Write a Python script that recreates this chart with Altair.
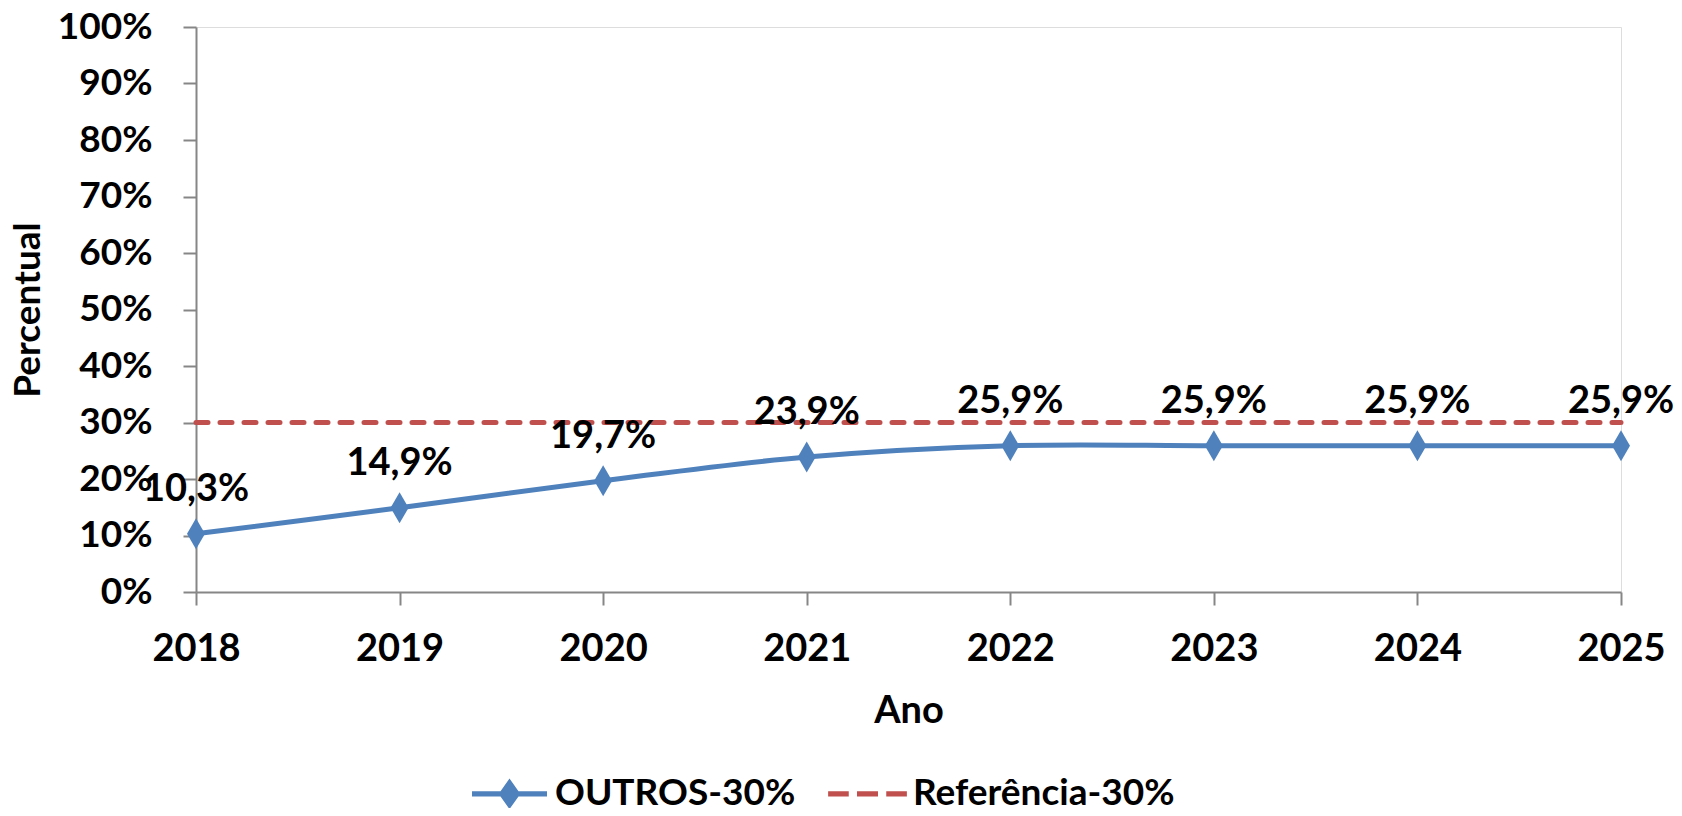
import altair as alt
import pandas as pd

anos = ["2018", "2019", "2020", "2021", "2022", "2023", "2024", "2025"]
outros = [0.103, 0.149, 0.197, 0.239, 0.259, 0.259, 0.259, 0.259]
referencia = [0.30, 0.30, 0.30, 0.30, 0.30, 0.30, 0.30, 0.30]
series_names = ["OUTROS-30%", "Referência-30%"]
y_ticks = [0.0, 0.1, 0.2, 0.3, 0.4, 0.5, 0.6, 0.7, 0.8, 0.9, 1.0]

BLUE = "#4F81BD"
RED = "#C0504D"
AXIS_GRAY = "#868686"
FONT = "Lato"

df_out = pd.DataFrame({"ano": anos, "valor": outros, "serie": series_names[0]})
df_out["rotulo"] = [f"{v*100:.1f}".replace(".", ",") + "%" for v in outros]
df_ref = pd.DataFrame({"ano": anos, "valor": referencia, "serie": series_names[1]})
df_all = pd.concat([df_out, df_ref], ignore_index=True)

x_enc = alt.X(
    "ano:O",
    sort=anos,
    scale=alt.Scale(type="point", padding=0),
    axis=alt.Axis(
        title="Ano", labelAngle=0, labelFont=FONT, labelFontSize=38, labelFontWeight="bold",
        labelColor="black", labelPadding=25, tickSize=13, tickColor=AXIS_GRAY, tickWidth=2,
        domainColor=AXIS_GRAY, domainWidth=2, grid=False,
        titleFont=FONT, titleFontSize=38, titleFontWeight="bold", titleColor="black", titlePadding=24,
    ),
)
y_enc = alt.Y(
    "valor:Q",
    scale=alt.Scale(domain=[0, 1], nice=False, zero=True),
    axis=alt.Axis(
        title="Percentual", values=y_ticks, format=".0%", labelFont=FONT, labelFontSize=37,
        labelFontWeight="bold", labelColor="black", labelPadding=31, tickSize=13,
        tickColor=AXIS_GRAY, tickWidth=2, domainColor=AXIS_GRAY, domainWidth=2, grid=False,
        titleFont=FONT, titleFontSize=37, titleFontWeight="bold", titleColor="black", titlePadding=10,
    ),
)

DIAMOND = "M0,-1L0.58,0L0,1L-0.58,0Z"
LEG_OUT = "M-1,-0.07L-0.24,-0.07L0,-0.41L0.24,-0.07L1,-0.07L1,0.07L0.24,0.07L0,0.41L-0.24,0.07L-1,0.07Z"
LEG_REF = ("M-1.05,-0.07L-0.5,-0.07L-0.5,0.07L-1.05,0.07Z"
           "M-0.28,-0.07L0.28,-0.07L0.28,0.07L-0.28,0.07Z"
           "M0.5,-0.07L1.05,-0.07L1.05,0.07L0.5,0.07Z")

legend = alt.Legend(
    title=None, orient="none", legendX=276, legendY=729, direction="horizontal",
    labelFont=FONT, labelFontSize=37, labelFontWeight="bold", labelColor="black",
    labelLimit=500, symbolSize=5625, symbolStrokeWidth=0, symbolOpacity=1,
    labelOffset=8, columnPadding=32, padding=0,
)

ref_line = alt.Chart(df_ref).mark_line(
    color=RED, strokeWidth=5, strokeDash=[12, 12], strokeCap="round"
).encode(x=x_enc, y=y_enc)

out_line = alt.Chart(df_out).mark_line(
    color=BLUE, strokeWidth=5, interpolate="cardinal"
).encode(x=x_enc, y=y_enc)

out_points = alt.Chart(df_out).mark_point(
    shape=DIAMOND, filled=True, color=BLUE, size=961, opacity=1
).encode(x=x_enc, y=y_enc)

labels = alt.Chart(df_out).mark_text(
    font=FONT, fontSize=38, fontWeight="bold", color="black", baseline="alphabetic",
    align="center", dy=-33
).encode(x=x_enc, y=y_enc, text="rotulo:N")

legend_layer = alt.Chart(df_all).mark_point(filled=True, size=0, opacity=1).encode(
    x=x_enc, y=y_enc,
    color=alt.Color("serie:N", scale=alt.Scale(domain=series_names, range=[BLUE, RED]), legend=legend),
    shape=alt.Shape("serie:N", scale=alt.Scale(domain=series_names, range=[LEG_OUT, LEG_REF]), legend=legend),
)

chart = alt.layer(ref_line, out_line, out_points, labels, legend_layer).properties(
    width=1425, height=565,
    autosize=alt.AutoSizeParams(type="none"),
    padding={"left": 188, "top": 19, "right": 53, "bottom": 216},
).configure_view(stroke=None).configure(background="white")

chart.save("out.html", embed_options={"renderer": "svg", "actions": False})
